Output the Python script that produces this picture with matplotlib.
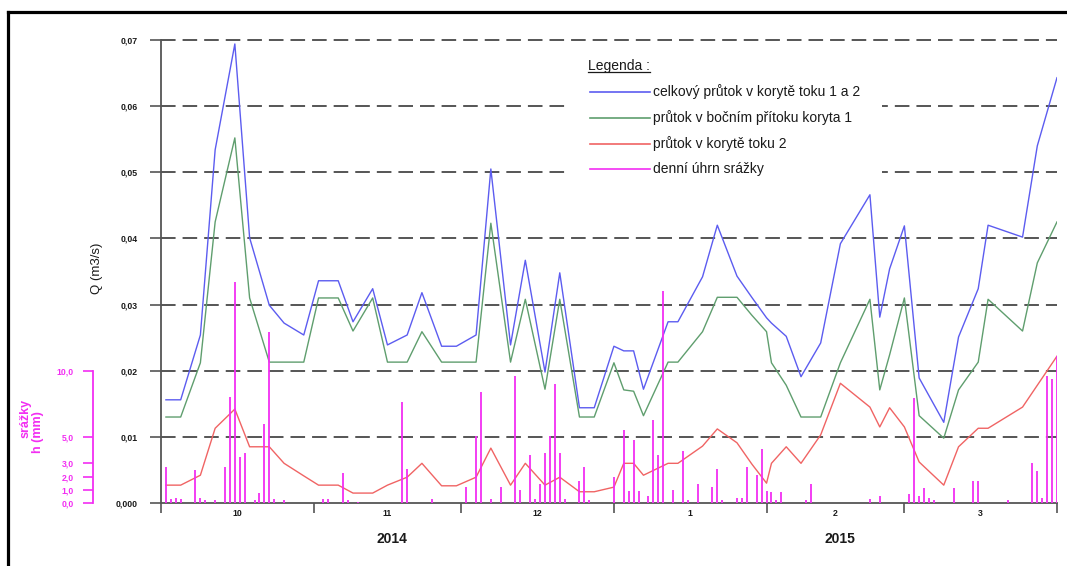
import matplotlib
matplotlib.use('Agg')
import matplotlib.pyplot as plt
from matplotlib.lines import Line2D
from matplotlib.patches import Rectangle
import matplotlib.transforms as mtransforms

plt.rcParams['font.family'] = ['Liberation Sans', 'DejaVu Sans']

W, H, DPI = 1067, 566, 100

# ---------------- data ----------------
# day index from 1 Oct 2014 (0) to 1 Apr 2015 (182)
days = [1, 4, 8, 11, 15, 18, 22, 25, 29, 32, 36, 39, 43, 46, 50, 53, 57, 60, 64, 67,
        71, 74, 78, 81, 85, 88, 92, 94, 96, 98, 103, 105, 110, 113, 117, 120, 123, 124,
        127, 130, 134, 138, 144, 146, 148, 151, 154, 159, 162, 166, 168, 175, 178, 182]

q_total = [0.0156, 0.0156, 0.0254, 0.0534, 0.0694, 0.0401, 0.0299, 0.0272, 0.0254, 0.0336,
           0.0336, 0.0274, 0.0324, 0.0239, 0.0254, 0.0318, 0.0237, 0.0237, 0.0254, 0.0505,
           0.0239, 0.0367, 0.0198, 0.0348, 0.0144, 0.0144, 0.0237, 0.0230, 0.0230, 0.0172,
           0.0274, 0.0274, 0.0342, 0.0420, 0.0343, 0.0311, 0.0280, 0.0272, 0.0252, 0.0191,
           0.0242, 0.0392, 0.0466, 0.0281, 0.0354, 0.0419, 0.0189, 0.0122, 0.0251, 0.0324,
           0.0420, 0.0402, 0.0540, 0.0643]

q_side = [0.0130, 0.0130, 0.0212, 0.0425, 0.0552, 0.0310, 0.0213, 0.0213, 0.0213, 0.0310,
          0.0310, 0.0260, 0.0310, 0.0213, 0.0213, 0.0259, 0.0213, 0.0213, 0.0213, 0.0423,
          0.0213, 0.0308, 0.0172, 0.0308, 0.0130, 0.0130, 0.0212, 0.0171, 0.0169, 0.0132,
          0.0213, 0.0213, 0.0259, 0.0311, 0.0311, 0.0284, 0.0259, 0.0212, 0.0178, 0.0130,
          0.0130, 0.0212, 0.0308, 0.0171, 0.0224, 0.0310, 0.0132, 0.0098, 0.0171, 0.0213,
          0.0308, 0.0260, 0.0363, 0.0425]

q_stream2 = [0.0027, 0.0027, 0.0042, 0.0113, 0.0142, 0.0085, 0.0085, 0.0060, 0.0041, 0.0027,
             0.0027, 0.0015, 0.0015, 0.0027, 0.0039, 0.0060, 0.0026, 0.0026, 0.0039, 0.0083,
             0.0027, 0.0060, 0.0027, 0.0039, 0.0017, 0.0017, 0.0024, 0.0060, 0.0060, 0.0042,
             0.0060, 0.0060, 0.0086, 0.0112, 0.0091, 0.0059, 0.0030, 0.0060, 0.0085, 0.0060,
             0.0103, 0.0181, 0.0145, 0.0115, 0.0144, 0.0115, 0.0062, 0.0027, 0.0085, 0.0113,
             0.0113, 0.0145, 0.0178, 0.0222]

rain_days = [1, 2, 3, 4, 7, 8, 9, 11, 13, 14, 15, 16, 17, 19, 20, 21, 22, 23, 25,
             33, 34, 37, 38, 40, 49, 50, 55, 62, 64, 65, 67, 69, 72, 73, 75, 76, 77, 78,
             79, 80, 81, 82, 85, 86, 87, 92, 94, 95, 96, 97, 99, 100, 101, 102, 104, 106,
             107, 109, 112, 113, 114, 117, 118, 119, 121, 122, 123, 124, 125, 126, 131, 132,
             144, 146, 152, 153, 154, 155, 156, 157, 161, 165, 166, 172, 177, 178, 179,
             180, 181, 182]
rain_mm = [2.7, 0.3, 0.4, 0.3, 2.5, 0.4, 0.2, 0.2, 2.7, 8.0, 16.7, 3.5, 3.8, 0.2, 0.75, 6.0,
           12.9, 0.3, 0.2,
           0.3, 0.3, 2.3, 0.2, 0.1, 7.6, 2.6, 0.3, 1.2, 5.1, 8.4, 0.3, 1.2, 9.6, 1.0, 3.6, 0.3,
           1.4, 3.8, 5.1, 9.0, 3.8, 0.3, 1.7, 2.7, 0.2, 2.0, 5.5, 0.9, 4.8, 0.9, 0.5, 6.3, 3.6,
           16.0, 1.0, 3.9, 0.2, 1.4, 1.2, 2.6, 0.2, 0.4, 0.4, 2.7, 2.1, 4.1, 0.9, 0.8, 0.2,
           0.8, 0.2, 1.4,
           0.3, 0.5, 0.7, 7.9, 0.5, 1.1, 0.4, 0.2, 1.1, 1.7, 1.7, 0.2, 3.0, 2.4, 0.4,
           9.6, 9.4, 11.1]

month_starts = [0, 31, 61, 92, 123, 151, 182]
month_labels = ['10', '11', '12', '1', '2', '3']
year_labels = ['2014', '2015']
year_bounds = [0, 92, 182]

q_ticks = [0.0, 0.01, 0.02, 0.03, 0.04, 0.05, 0.06, 0.07]
q_tick_labels = ['0,000', '0,01', '0,02', '0,03', '0,04', '0,05', '0,06', '0,07']
rain_ticks = [0, 1, 2, 3, 5, 10]
rain_tick_labels = ['0,0', '1,0', '2,0', '3,0', '5,0', '10,0']

legend_title = 'Legenda :'
legend_labels = ['celkový průtok v korytě toku 1 a 2',
                 'průtok v bočním přítoku koryta 1',
                 'průtok v korytě toku 2',
                 'denní úhrn srážky']

C_BLUE = '#5c5cf0'
C_GREEN = '#5f9e6e'
C_RED = '#f06464'
C_MAG = '#f22ef2'
C_AX = '#555555'
C_TXT = '#1a1a1a'

# ---------------- figure ----------------
fig = plt.figure(figsize=(W / DPI, H / DPI), dpi=DPI)
fig.patch.set_facecolor('white')


def fx(x):
    return x / W


def fy(y):
    return 1 - y / H


rect = [fx(161), fy(503), fx(1057) - fx(161), fy(40) - fy(503)]
ax = fig.add_axes(rect)
ax.set_xlim(month_starts[0], month_starts[-1])
ax.set_ylim(0, 0.07)

for s in ['top', 'right']:
    ax.spines[s].set_visible(False)
for s in ['left', 'bottom']:
    ax.spines[s].set_color(C_AX)
    ax.spines[s].set_linewidth(1.3)

# horizontal dashed grid
for yv in q_ticks[1:]:
    ax.axhline(yv, color=C_AX, lw=1.4, linestyle=(0, (7.5, 3.6)), clip_on=False, zorder=0.5)

ax.set_yticks(q_ticks)
ax.set_yticklabels(q_tick_labels)
ax.tick_params(axis='y', length=8, width=1.2, color=C_AX, pad=9, labelsize=6.3,
               labelcolor=C_TXT)
for t in ax.get_yticklabels():
    t.set_fontweight('bold')

ax.set_xticks(month_starts)
ax.set_xticklabels([''] * len(month_starts))
ax.set_xticks([year_bounds[1]], minor=True)
ax.tick_params(axis='x', which='major', length=7, width=1.2, color=C_AX)
ax.tick_params(axis='x', which='minor', length=25, width=1.2, color=C_AX)

# flows
ax.plot(days, q_total, color=C_BLUE, lw=1.0, zorder=3)
ax.plot(days, q_side, color=C_GREEN, lw=1.0, zorder=3)
ax.plot(days, q_stream2, color=C_RED, lw=1.0, zorder=3)

# month / year labels
trans = mtransforms.blended_transform_factory(ax.transData, fig.transFigure)
for i, lab in enumerate(month_labels):
    c = (month_starts[i] + month_starts[i + 1]) / 2
    ax.text(c, fy(514), lab, transform=trans, ha='center', va='center',
            fontsize=6.3, color=C_TXT, fontweight='bold')
for i, lab in enumerate(year_labels):
    c = (year_bounds[i] + year_bounds[i + 1]) / 2 + 1
    ax.text(c, fy(539), lab, transform=trans, ha='center', va='center',
            fontsize=10, color=C_TXT, fontweight='bold')

ax.text(fx(97), fy(268), 'Q (m3/s)', transform=fig.transFigure, rotation=90,
        ha='center', va='center', fontsize=9.5, color=C_TXT)

# precipitation axis (1 mm == 0.002 m3/s on the chart)
ax2 = fig.add_axes(rect, sharex=ax)
ax2.patch.set_visible(False)
ax2.set_ylim(0, 35)
ax2.xaxis.set_visible(False)
for s in ['top', 'right', 'bottom']:
    ax2.spines[s].set_visible(False)
ax2.spines['left'].set_position(('outward', 49))
ax2.spines['left'].set_bounds(0, 10)
ax2.spines['left'].set_color(C_MAG)
ax2.spines['left'].set_linewidth(1.3)
ax2.set_yticks(rain_ticks)
ax2.set_yticklabels(rain_tick_labels)
ax2.tick_params(axis='y', length=7, width=1.2, color=C_MAG, labelcolor=C_MAG,
                labelsize=6.2, pad=7)
for t in ax2.get_yticklabels():
    t.set_fontweight('bold')
ax2.vlines(rain_days, 0, rain_mm, color=C_MAG, lw=1.3)

fig.text(fx(26), fy(418), 'srážky', rotation=90, ha='center', va='center',
         fontsize=9, color=C_MAG, fontweight='bold')
fig.text(fx(38), fy(432), 'h (mm)', rotation=90, ha='center', va='center',
         fontsize=9, color=C_MAG, fontweight='bold')

# legend
fig.patches.append(Rectangle((fx(570), fy(183)), fx(882) - fx(570), fy(52) - fy(183),
                             transform=fig.transFigure, facecolor='white',
                             edgecolor='none', zorder=0.8))
title = fig.text(fx(588), fy(66), legend_title, ha='left', va='center', fontsize=10,
                 color=C_TXT, zorder=3)
rows = [92, 118, 144, 169]
cols = [C_BLUE, C_GREEN, C_RED, C_MAG]
for yy, lab, c in zip(rows, legend_labels, cols):
    fig.lines.append(Line2D([fx(590), fx(650)], [fy(yy), fy(yy)], transform=fig.transFigure,
                            color=c, lw=1.2, zorder=3))
    fig.text(fx(653), fy(yy), lab, ha='left', va='center', fontsize=10, color=C_TXT, zorder=3)

fig.canvas.draw()
bb = title.get_window_extent()
fig.lines.append(Line2D([bb.x0 / W, bb.x1 / W], [fy(72), fy(72)], transform=fig.transFigure,
                        color=C_TXT, lw=0.9, zorder=3))

# outer frame (top and left edges visible)
fig.lines.append(Line2D([fx(8), fx(1070)], [fy(12), fy(12)], transform=fig.transFigure,
                        color='black', lw=2.3, zorder=5))
fig.lines.append(Line2D([fx(8), fx(8)], [fy(12), fy(570)], transform=fig.transFigure,
                        color='black', lw=2.3, zorder=5))

fig.savefig('out.png', dpi=DPI, facecolor='white')
